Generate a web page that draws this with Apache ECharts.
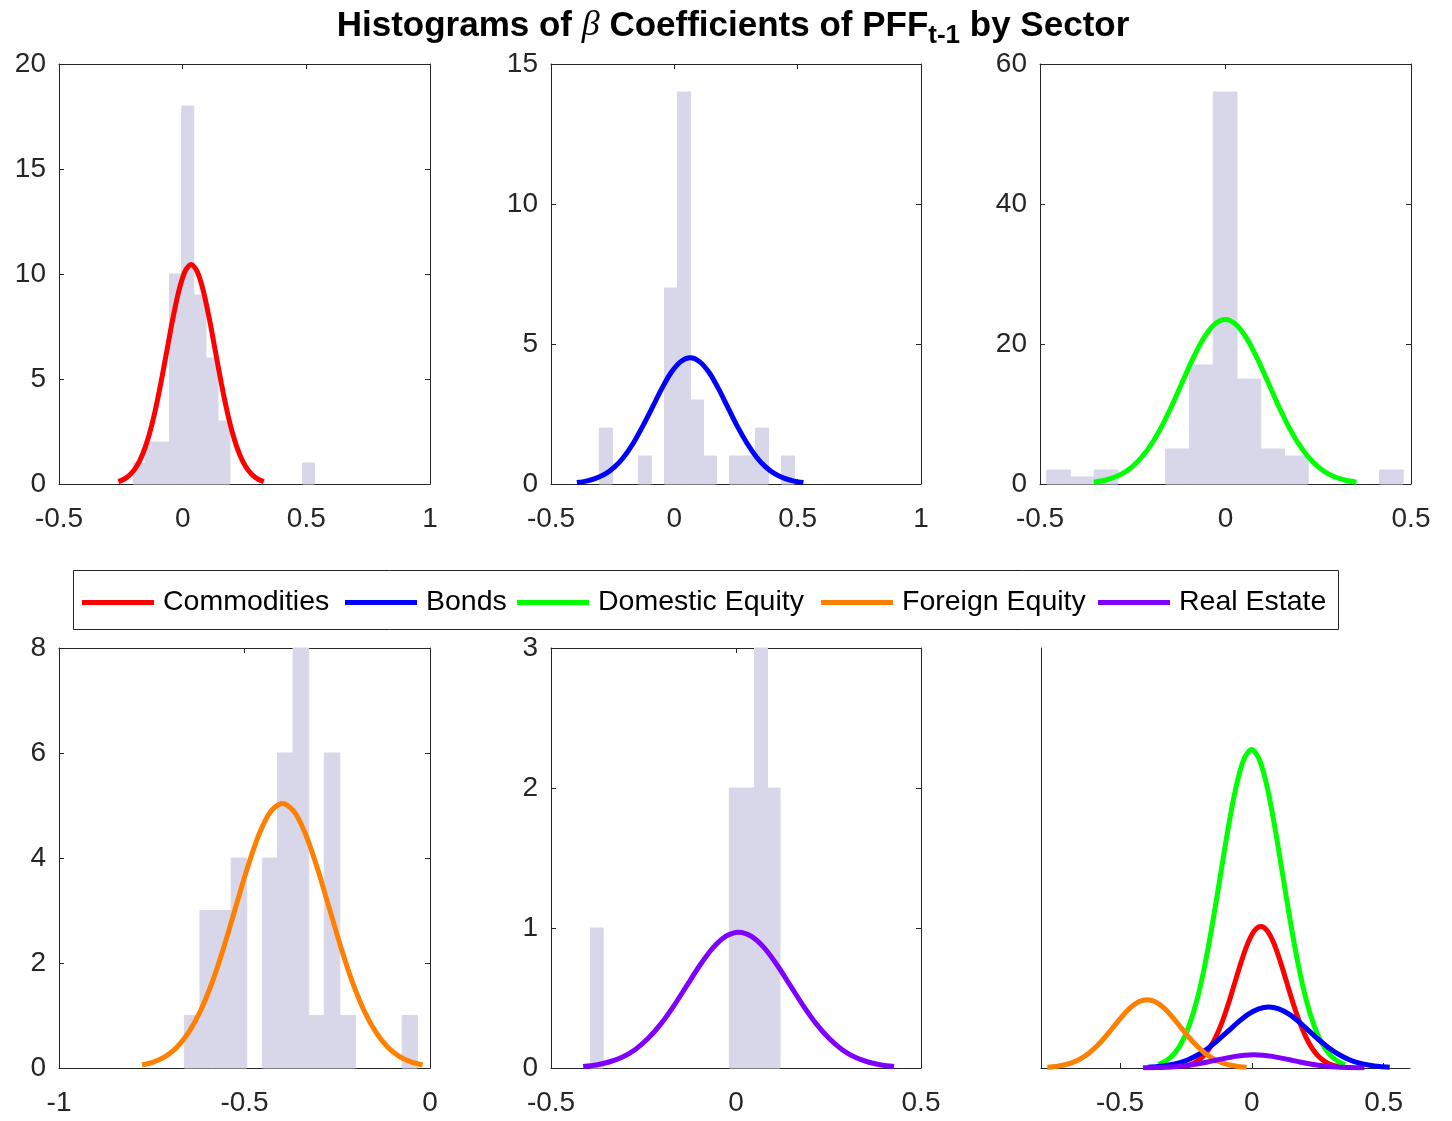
<!DOCTYPE html>
<html>
<head>
<meta charset="utf-8">
<title>Histograms of beta coefficients by sector</title>
<script src="https://cdn.jsdelivr.net/npm/echarts@6/dist/echarts.min.js"></script>
<style>
  html, body { margin: 0; padding: 0; background: #fff; }
  #chart { width: 1452px; height: 1121px; }
</style>
</head>
<body>
<div id="chart"></div>
<script>
// sector names (legend order)
const sectors = ['Commodities', 'Bonds', 'Domestic Equity', 'Foreign Equity', 'Real Estate'];
const sectorColors = ['#ff0000', '#0000ff', '#00ff00', '#ff8000', '#8000ff'];

// histogram bin edges + counts
const commEdges = [-0.200, -0.151, -0.102, -0.053, -0.004, 0.045, 0.094, 0.143, 0.191, 0.240, 0.289, 0.338, 0.387, 0.436, 0.485, 0.533];
const commCounts = [1, 2, 2, 10, 18, 9, 6, 3, 0, 0, 0, 0, 0, 0, 1];

const bondEdges = [-0.304, -0.251, -0.198, -0.146, -0.093, -0.040, 0.013, 0.066, 0.118, 0.171, 0.224, 0.277, 0.329, 0.382, 0.435, 0.487];
const bondCounts = [2, 0, 0, 1, 0, 7, 14, 3, 1, 0, 1, 1, 2, 0, 1];

const domEdges = [-0.482, -0.418, -0.354, -0.290, -0.226, -0.162, -0.097, -0.033, 0.031, 0.095, 0.159, 0.223, 0.287, 0.351, 0.415, 0.479];
const domCounts = [2, 1, 2, 0, 0, 5, 17, 56, 15, 5, 4, 0, 0, 0, 2];

const forEdges = [-0.662, -0.620, -0.578, -0.536, -0.494, -0.452, -0.411, -0.369, -0.327, -0.285, -0.243, -0.201, -0.159, -0.117, -0.075, -0.034];
const forCounts = [1, 3, 3, 4, 0, 4, 6, 8, 1, 6, 1, 0, 0, 0, 1];

const reEdges = [-0.393, -0.359, -0.325, -0.291, -0.256, -0.222, -0.188, -0.154, -0.120, -0.086, -0.052, -0.018, 0.016, 0.050, 0.085, 0.119];
const reCounts = [1, 0, 0, 0, 0, 0, 0, 0, 0, 0, 0, 2, 2, 3, 2];

// fitted normal curves
const commCurveX = [-0.260, -0.2355, -0.211, -0.1865, -0.162, -0.1375, -0.113, -0.0885, -0.064, -0.0395, -0.015, 0.0095, 0.034,
  0.0585, 0.083, 0.1075, 0.132, 0.1565, 0.181, 0.2055, 0.230, 0.2545, 0.279, 0.3035, 0.328];
const commCurveY = [0.116, 0.238, 0.459, 0.830, 1.414, 2.260, 3.393, 4.784, 6.338, 7.888, 9.222, 10.128, 10.45,
  10.128, 9.222, 7.888, 6.338, 4.784, 3.393, 2.260, 1.414, 0.830, 0.459, 0.238, 0.116];

const bondCurveX = [-0.395, -0.357, -0.319, -0.280, -0.242, -0.204, -0.166, -0.128, -0.089, -0.051, -0.013, 0.026, 0.064,
  0.102, 0.141, 0.179, 0.217, 0.255, 0.294, 0.332, 0.370, 0.408, 0.447, 0.485, 0.523];
const bondCurveY = [0.050, 0.103, 0.198, 0.358, 0.610, 0.976, 1.464, 2.065, 2.735, 3.404, 3.980, 4.371, 4.51,
  4.371, 3.980, 3.404, 2.735, 2.065, 1.464, 0.976, 0.610, 0.358, 0.198, 0.103, 0.050];

const domCurveX = [-0.355, -0.3255, -0.296, -0.2665, -0.237, -0.2075, -0.178, -0.1485, -0.119, -0.0895, -0.060, -0.0305, -0.001,
  0.0285, 0.058, 0.0875, 0.117, 0.1465, 0.176, 0.2055, 0.235, 0.2645, 0.294, 0.3235, 0.353];
const domCurveY = [0.261, 0.536, 1.032, 1.866, 3.180, 5.083, 7.630, 10.758, 14.253, 17.738, 20.739, 22.776, 23.5,
  22.776, 20.739, 17.738, 14.253, 10.758, 7.630, 5.083, 3.180, 1.866, 1.032, 0.536, 0.261];

const forCurveX = [-0.776, -0.7445, -0.713, -0.6815, -0.650, -0.6185, -0.587, -0.5555, -0.524, -0.4925, -0.461, -0.4295, -0.398,
  -0.3665, -0.335, -0.3035, -0.272, -0.2405, -0.209, -0.1775, -0.146, -0.1145, -0.083, -0.0515, -0.020];
const forCurveY = [0.056, 0.115, 0.221, 0.400, 0.682, 1.090, 1.636, 2.307, 3.057, 3.804, 4.448, 4.885, 5.04,
  4.885, 4.448, 3.804, 3.057, 2.307, 1.636, 1.090, 0.682, 0.400, 0.221, 0.115, 0.056];

const reCurveX = [-0.413, -0.378, -0.343, -0.308, -0.273, -0.238, -0.203, -0.168, -0.133, -0.098, -0.063, -0.028, 0.007,
  0.042, 0.077, 0.112, 0.147, 0.182, 0.217, 0.252, 0.287, 0.322, 0.357, 0.392, 0.427];
const reCurveY = [0.011, 0.022, 0.043, 0.077, 0.131, 0.210, 0.315, 0.444, 0.588, 0.732, 0.856, 0.940, 0.970,
  0.940, 0.856, 0.732, 0.588, 0.444, 0.315, 0.210, 0.131, 0.077, 0.043, 0.022, 0.011];

// axis ranges per panel
const xRanges = [[-0.5, 1], [-0.5, 1], [-0.5, 0.5], [-1, 0], [-0.5, 0.5], [-0.8, 0.6]];
const yRanges = [[0, 20], [0, 15], [0, 60], [0, 8], [0, 3], [0, 31]];
const yIntervals = [5, 5, 20, 2, 1];

const FONT = 'Liberation Sans, Arial, Helvetica, sans-serif';
const AX = '#262626';
const BAR = '#d7d7e9';

const chart = echarts.init(document.getElementById('chart'));

const grids = [
  { left: 59, top: 64, width: 371, height: 420 },
  { left: 551, top: 64, width: 370, height: 420 },
  { left: 1040, top: 64, width: 371, height: 420 },
  { left: 59, top: 648, width: 371, height: 420 },
  { left: 551, top: 648, width: 370, height: 420 },
  { left: 1041, top: 648, width: 369, height: 420 }
];

const hist = [
  [commEdges, commCounts], [bondEdges, bondCounts], [domEdges, domCounts],
  [forEdges, forCounts], [reEdges, reCounts]
];
const curves = [
  [commCurveX, commCurveY], [bondCurveX, bondCurveY], [domCurveX, domCurveY],
  [forCurveX, forCurveY], [reCurveX, reCurveY]
];

const xAxes = [], yAxes = [], series = [];

const tickStyle = { show: true, inside: true, length: 5, lineStyle: { color: AX, width: 1 } };
const lineStyle = { show: true, onZero: false, lineStyle: { color: AX, width: 1 } };
const labelStyle = { color: AX, fontSize: 28, fontFamily: FONT };

for (let i = 0; i < 6; i++) {
  const boxed = i < 5;
  // bottom x
  xAxes.push({
    gridIndex: i, type: 'value', position: 'bottom',
    min: xRanges[i][0], max: xRanges[i][1],
    interval: boxed ? 0.5 : undefined,
    splitLine: { show: false },
    axisLine: lineStyle,
    axisTick: boxed ? tickStyle : Object.assign({}, tickStyle, { customValues: [-0.5, 0, 0.5] }),
    axisLabel: boxed ? Object.assign({ margin: 21 }, labelStyle)
                     : Object.assign({ margin: 21, customValues: [-0.5, 0, 0.5] }, labelStyle)
  });
  // left y
  yAxes.push({
    gridIndex: i, type: 'value', position: 'left',
    min: yRanges[i][0], max: yRanges[i][1],
    interval: boxed ? yIntervals[i] : undefined,
    splitLine: { show: false },
    axisLine: lineStyle,
    axisTick: boxed ? tickStyle : { show: false },
    axisLabel: boxed ? Object.assign({ margin: 13, padding: [6, 0, 0, 0] }, labelStyle) : { show: false }
  });
  if (boxed) {
    // top + right mirror axes to close the box
    xAxes.push({
      gridIndex: i, type: 'value', position: 'top',
      min: xRanges[i][0], max: xRanges[i][1], interval: 0.5,
      splitLine: { show: false }, axisLine: lineStyle, axisTick: tickStyle,
      axisLabel: { show: false }
    });
    yAxes.push({
      gridIndex: i, type: 'value', position: 'right',
      min: yRanges[i][0], max: yRanges[i][1], interval: yIntervals[i],
      splitLine: { show: false }, axisLine: lineStyle, axisTick: tickStyle,
      axisLabel: { show: false }
    });
  }
}

// axis index of bottom x / left y for each panel
const xIdx = [0, 2, 4, 6, 8, 10];
const yIdx = [0, 2, 4, 6, 8, 10];

function histSeries(panel, edges, counts) {
  const data = [];
  counts.forEach((c, k) => { if (c > 0) data.push([edges[k], edges[k + 1], c]); });
  return {
    type: 'custom',
    xAxisIndex: xIdx[panel], yAxisIndex: yIdx[panel],
    silent: true, z: 1,
    encode: { x: [0, 1], y: 2 },
    data: data,
    renderItem: function (params, api) {
      const p0 = api.coord([api.value(0), 0]);
      const p1 = api.coord([api.value(1), api.value(2)]);
      return {
        type: 'rect',
        shape: { x: p0[0], y: p1[1], width: p1[0] - p0[0], height: p0[1] - p1[1] },
        style: { fill: BAR, stroke: BAR, lineWidth: 1 }
      };
    }
  };
}

function curveSeries(panel, s) {
  const xs = curves[s][0], ys = curves[s][1];
  return {
    type: 'line', name: sectors[s],
    xAxisIndex: xIdx[panel], yAxisIndex: yIdx[panel],
    data: xs.map((x, k) => [x, ys[k]]),
    smooth: 0.3,
    showSymbol: false, symbol: 'none', z: 3,
    color: sectorColors[s],
    lineStyle: { color: sectorColors[s], width: 5 }
  };
}

for (let i = 0; i < 5; i++) {
  series.push(histSeries(i, hist[i][0], hist[i][1]));
  series.push(curveSeries(i, i));
}
// combined panel: green first, then red, blue, orange, purple
[2, 0, 1, 3, 4].forEach(s => series.push(curveSeries(5, s)));

// one legend per entry so each sits at its own spot in the box
const legendLeft = [82, 345, 517, 821, 1098];
const legends = sectors.map((name, k) => ({
  data: [name],
  left: legendLeft[k], top: 588,
  padding: 0,
  icon: 'rect', itemWidth: 72, itemHeight: 5,
  selectedMode: false,
  textStyle: { color: '#000', fontSize: 28.5, fontFamily: FONT, padding: [0, 0, 0, 4] }
}));

chart.setOption({
  animation: false,
  backgroundColor: '#fff',
  grid: grids,
  xAxis: xAxes,
  yAxis: yAxes,
  legend: legends,
  series: series,
  graphic: [
    {
      type: 'rect', z: -1,
      shape: { x: 73.5, y: 570.5, width: 1265, height: 59 },
      style: { fill: '#fff', stroke: AX, lineWidth: 1 }
    },
    {
      type: 'text', x: 733, y: 3,
      style: {
        text: '{t|Histograms of }{b|β}{t| Coefficients of PFF}{s|t-1}{t| by Sector}',
        align: 'center', verticalAlign: 'top',
        rich: {
          t: { fontSize: 35, fontWeight: 'bold', fontFamily: FONT, fill: '#000', lineHeight: 46 },
          b: { fontSize: 36, fontStyle: 'italic', fontFamily: 'Liberation Serif, DejaVu Serif, serif', fill: '#000', lineHeight: 46 },
          s: { fontSize: 26, fontWeight: 'bold', fontFamily: FONT, fill: '#000', lineHeight: 22, verticalAlign: 'bottom' }
        }
      }
    }
  ]
});
</script>
</body>
</html>
